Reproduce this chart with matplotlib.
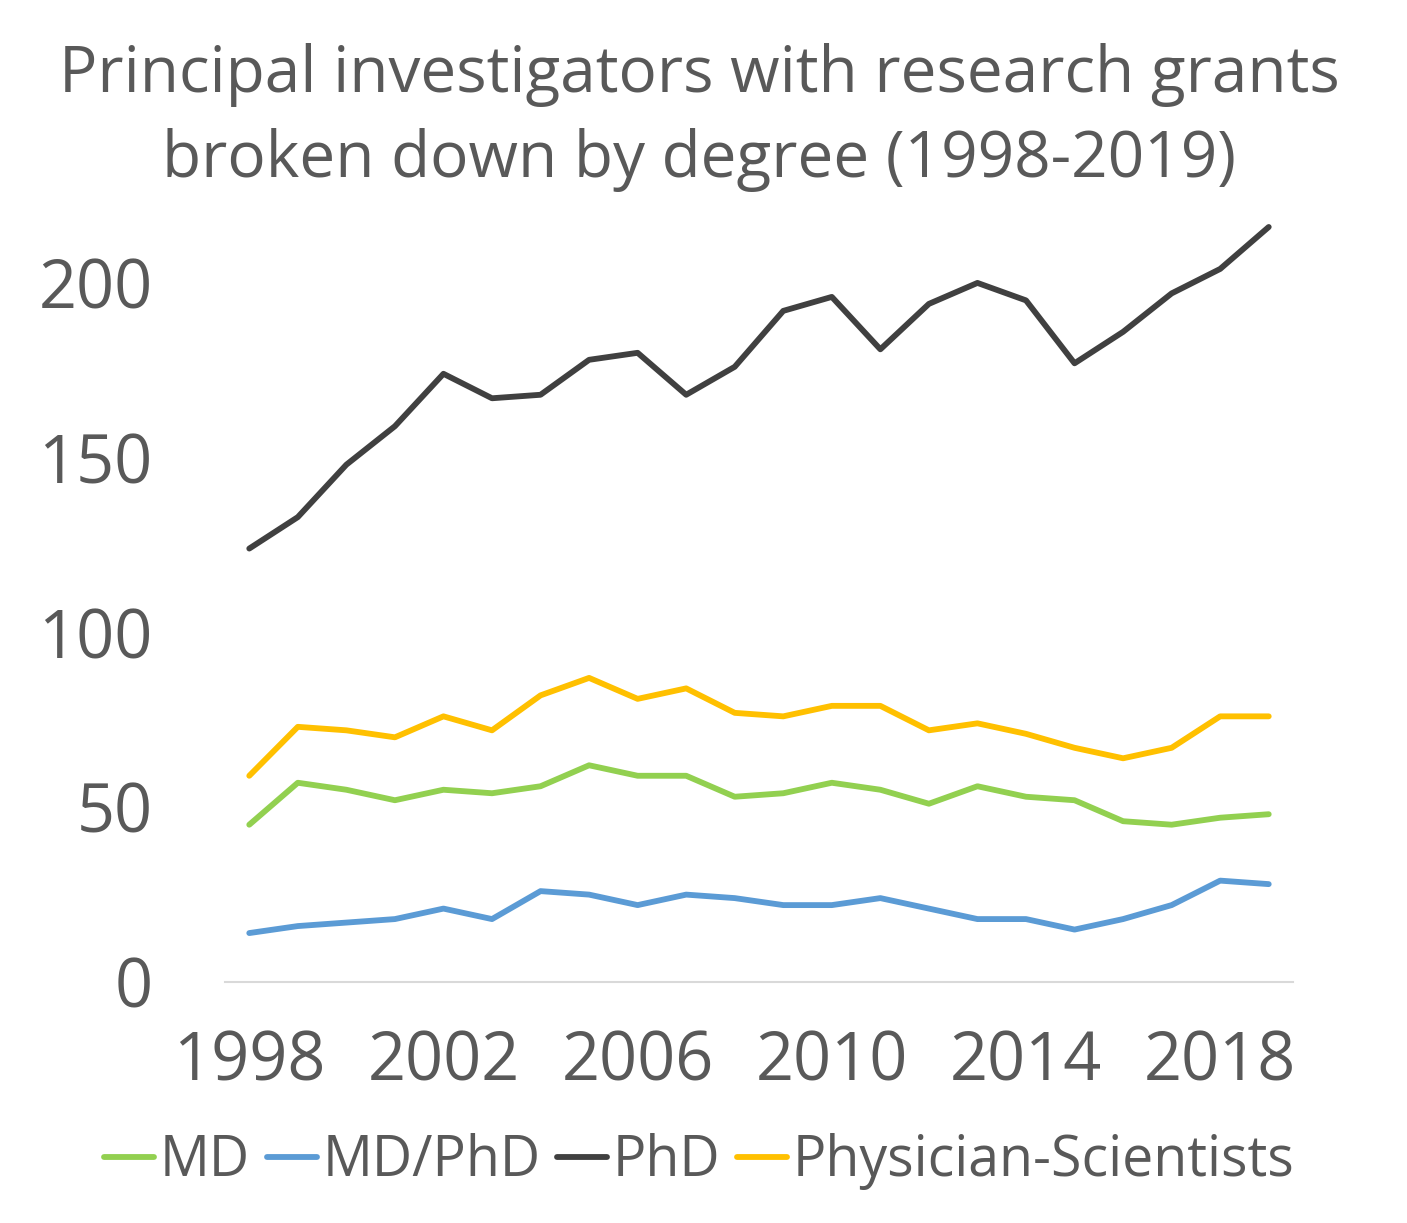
import matplotlib
matplotlib.use("Agg")
import matplotlib.pyplot as plt
import numpy as np

years = list(range(1998, 2020))
md = [45, 57, 55, 52, 55, 54, 56, 62, 59, 59, 53, 54, 57, 55, 51, 56, 53, 52, 46, 45, 47, 48]
md_phd = [14, 16, 17, 18, 21, 18, 26, 25, 22, 25, 24, 22, 22, 24, 21, 18, 18, 15, 18, 22, 29, 28]
phd = [124, 133, 148, 159, 174, 167, 168, 178, 180, 168, 176, 192, 196, 181, 194, 200, 195, 177, 186, 197, 204, 216]
phys_sci = [59, 73, 72, 70, 76, 72, 82, 87, 81, 84, 77, 76, 79, 79, 72, 74, 71, 67, 64, 67, 76, 76]

series = [
    ("MD", md, "#92D050"),
    ("MD/PhD", md_phd, "#5B9BD5"),
    ("PhD", phd, "#404040"),
    ("Physician-Scientists", phys_sci, "#FFC000"),
]

text_color = "#595959"
plt.rcParams["font.family"] = ["Open Sans", "DejaVu Sans"]

fig = plt.figure(figsize=(14.07, 12.23), dpi=100)
ax = fig.add_axes([225 / 1407, 1 - 982 / 1223, 1068 / 1407, 769 / 1223])

for name, vals, color in series:
    ax.plot(years, vals, color=color, lw=4.2, label=name, solid_capstyle="round")

ax.set_xlim(1997.5, 2019.5)
ax.set_ylim(0, 220)
ax.set_xticks([1998, 2002, 2006, 2010, 2014, 2018])
ax.set_yticks([0, 50, 100, 150, 200])
ax.tick_params(axis="both", length=0, labelsize=48, colors=text_color)
ax.tick_params(axis="y", pad=52)
ax.tick_params(axis="x", pad=34)
for s in ["top", "right", "left"]:
    ax.spines[s].set_visible(False)
ax.spines["bottom"].set_color("#D9D9D9")
ax.spines["bottom"].set_linewidth(1.5)

fig.text(0.497, 1 - 75 / 1223, "Principal investigators with research grants",
         ha="center", va="center", fontsize=46, color=text_color)
fig.text(0.497, 1 - 160 / 1223, "broken down by degree (1998-2019)",
         ha="center", va="center", fontsize=46, color=text_color)

leg = fig.legend(loc="center", bbox_to_anchor=(0.497, 1 - 1162 / 1223), ncol=4,
                 frameon=False, fontsize=40, handlelength=0.9, handletextpad=0.1,
                 columnspacing=0.3, labelcolor=text_color)

fig.savefig("out.png", dpi=100)
